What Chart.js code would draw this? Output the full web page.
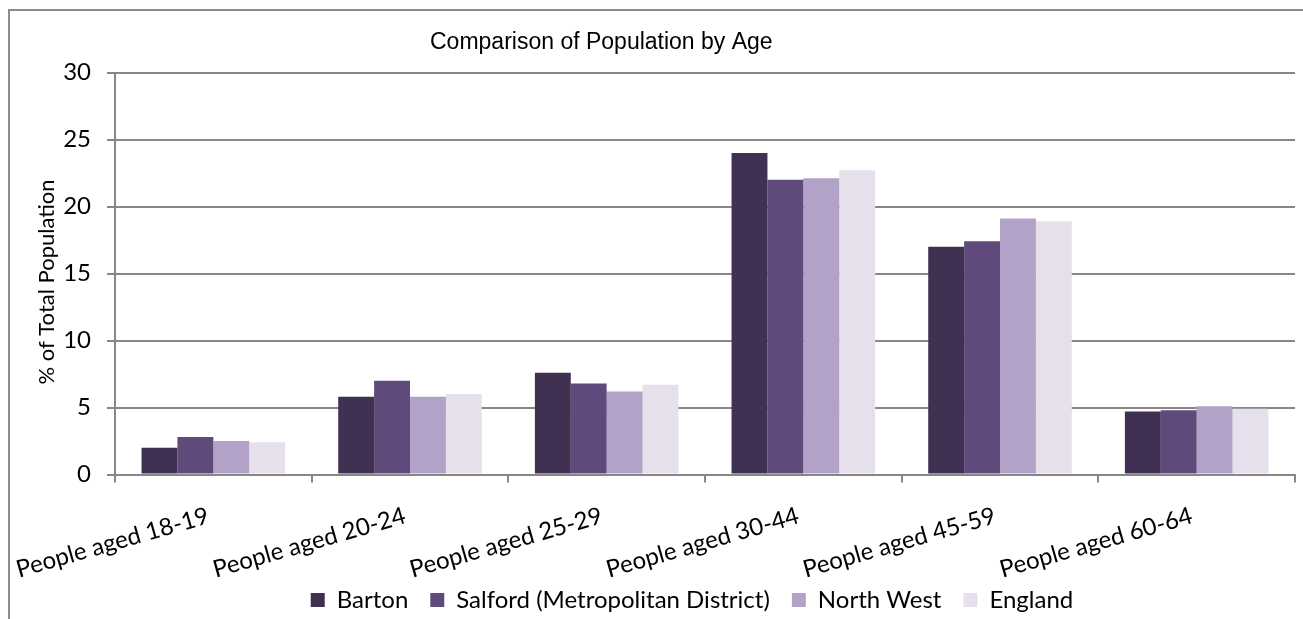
<!DOCTYPE html>
<html>
<head>
<meta charset="utf-8">
<script src="https://cdn.jsdelivr.net/npm/chart.js@4/dist/chart.umd.min.js"></script>
<style>
  html, body { margin: 0; padding: 0; background: #fff; }
  #wrap { position: relative; width: 1303px; height: 619px; overflow: hidden; }
  #frame { position: absolute; left: 8px; top: 9px; width: 1400px; height: 700px;
           border-left: 2px solid #8c8c8c; border-top: 2px solid #8c8c8c; }
  #chart { position: absolute; left: 0; top: 0; }
</style>
</head>
<body>
<div id="wrap">
  <div id="frame"></div>
  <canvas id="chart" width="1303" height="619"></canvas>
</div>
<script>
// data
const categories = ['People aged 18-19', 'People aged 20-24', 'People aged 25-29',
                    'People aged 30-44', 'People aged 45-59', 'People aged 60-64'];
const barton   = [2.0, 5.8, 7.6, 24.0, 17.0, 4.7];
const salford  = [2.8, 7.0, 6.8, 22.0, 17.4, 4.8];
const northWest = [2.5, 5.8, 6.2, 22.1, 19.1, 5.1];
const england  = [2.4, 6.0, 6.7, 22.7, 18.9, 4.9];
const yMin = 0, yMax = 30, yStep = 5;

const chartTitle = 'Comparison of Population by Age';
const yTitle = '% of Total Population';
const gridColor = '#878787';
const font = 'Lato';
const fontSize = 24;

// titles are off-centre in the original, so they are drawn by hand
const titlePlugin = {
  id: 'handTitles',
  afterLayout(chart) {
    // let the slanted category labels run down past the axis box
    chart.scales.x.bottom = chart.height;
    // nudge the legend to where the original has it
    const lg = chart.legend;
    lg.left -= 13; lg.right -= 13;
    lg.top += 3; lg.bottom += 3;
  },
  afterDraw(chart) {
    const ctx = chart.ctx;
    ctx.save();
    ctx.font = '23px "Liberation Sans", Arial, sans-serif';
    ctx.fillStyle = '#000';
    ctx.textAlign = 'left';
    ctx.textBaseline = 'alphabetic';
    ctx.fillText(chartTitle, 430, 49);
    ctx.translate(47, 282);
    ctx.rotate(-Math.PI / 2);
    ctx.font = '22px ' + font;
    ctx.textAlign = 'center';
    ctx.textBaseline = 'middle';
    ctx.fillText(yTitle, 0, 0);
    ctx.restore();
  }
};

const data = {
  labels: categories,
  datasets: [
    { label: 'Barton', data: barton, backgroundColor: '#403152' },
    { label: 'Salford (Metropolitan District)', data: salford, backgroundColor: '#604a7b' },
    { label: 'North West', data: northWest, backgroundColor: '#b3a2c7' },
    { label: 'England', data: england, backgroundColor: '#e5e0ec' },
  ]
};

const config = {
  type: 'bar',
  data: data,
  plugins: [titlePlugin],
  options: {
    responsive: false,
    animation: false,
    layout: { padding: { left: 0, top: 72.5, right: 8, bottom: 0 } },
    datasets: {
      bar: { categoryPercentage: 0.73, barPercentage: 1.0, borderWidth: 0 }
    },
    plugins: {
      title: { display: false },
      tooltip: { enabled: false },
      legend: {
        position: 'bottom',
        fullSize: false,
        labels: {
          boxWidth: 14,
          boxHeight: 14,
          padding: 22,
          color: '#000',
          font: { family: font, size: fontSize }
        }
      }
    },
    scales: {
      x: {
        grid: { display: true, drawOnChartArea: false, drawTicks: true, tickLength: 8,
                color: gridColor, lineWidth: 2, offset: true },
        border: { color: gridColor, width: 2 },
        ticks: { color: '#000', minRotation: 16, maxRotation: 16, padding: 19,
                 labelOffset: -5,
                 font: { family: font, size: fontSize } },
        afterFit(scale) {
          scale.height = 88.5;
          scale.paddingLeft = 0;
          scale.paddingRight = 0;
        }
      },
      y: {
        min: yMin,
        max: yMax,
        grid: { color: gridColor, lineWidth: 2, tickLength: 8 },
        border: { color: gridColor, width: 2 },
        ticks: { stepSize: yStep, color: '#000', padding: 16,
                 font: { family: font, size: fontSize } },
        title: { display: false },
        afterFit(scale) { scale.width = 115; }
      }
    }
  }
};

const chart = new Chart(document.getElementById('chart'), config);
</script>
</body>
</html>
